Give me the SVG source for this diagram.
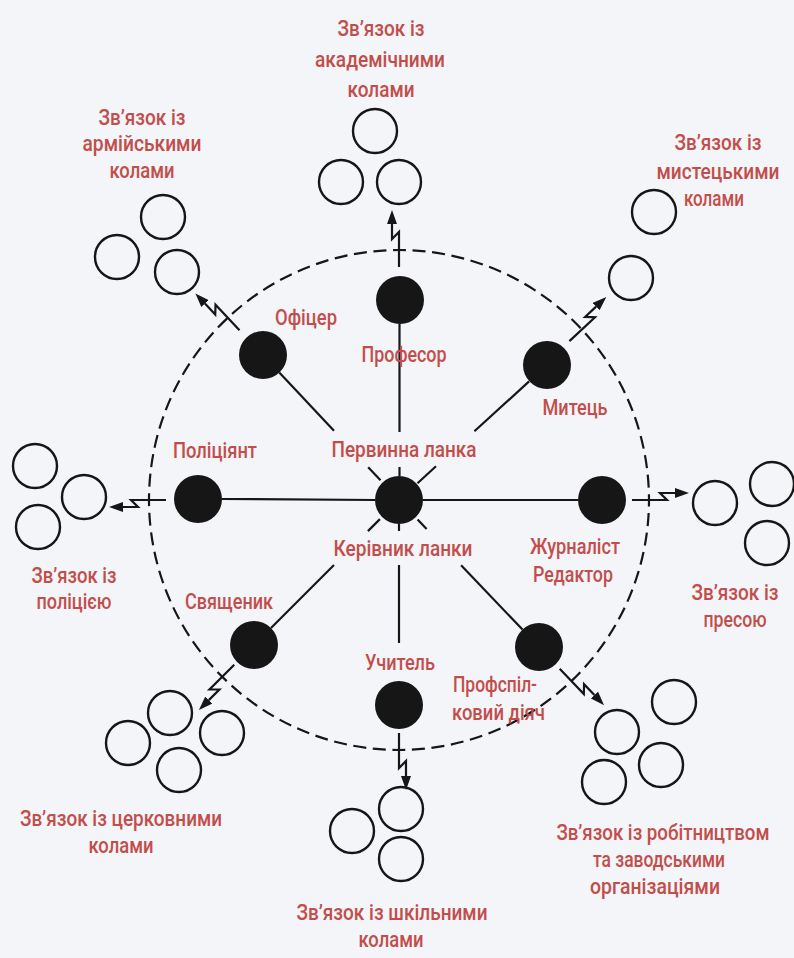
<svg xmlns="http://www.w3.org/2000/svg" width="794" height="958" viewBox="0 0 794 958">
<defs>
<style>
.bg{fill:#f3f5f8}
.lbl{font-family:Roboto,"Liberation Sans","DejaVu Sans",sans-serif;font-size:22px;font-weight:500;fill:#c24e4c;text-anchor:middle}
.st{text-anchor:start}
.dot{fill:#161616}
.ring{fill:none;stroke:#161616;stroke-width:2.4}
.spoke{stroke:#161616;stroke-width:2.2;fill:none}
.bolt{stroke:#161616;stroke-width:2.2;fill:none;stroke-linejoin:miter;marker-end:url(#arr)}
.border{fill:none;stroke:#161616;stroke-width:2.2;stroke-dasharray:13 6.635;stroke-dashoffset:6.5}
</style>
<marker id="arr" viewBox="0 0 14 10" refX="0" refY="5" markerWidth="14" markerHeight="10" markerUnits="userSpaceOnUse" orient="auto">
<path d="M0,0 L14,5 L0,10 z" fill="#161616"/>
</marker>
</defs>
<rect class="bg" x="0" y="0" width="794" height="958"/>

<circle id="boundary" class="border" cx="399" cy="500" r="250"/>

<g id="connectors">
<line class="spoke" x1="334" y1="430.7" x2="279.3" y2="372.4"/>
<line class="spoke" x1="380.5" y1="480.3" x2="368.2" y2="467.2"/>
<line class="spoke" x1="399.5" y1="324" x2="399.5" y2="432"/>
<line class="spoke" x1="399.5" y1="467" x2="399.5" y2="476"/>
<line class="spoke" x1="474.4" y1="431.3" x2="529.1" y2="381.4"/>
<line class="spoke" x1="417.5" y1="483.2" x2="436" y2="466.3"/>
<line class="spoke" x1="375" y1="500" x2="222" y2="499"/>
<line class="spoke" x1="423" y1="500" x2="578" y2="500"/>
<line class="spoke" x1="334" y1="565" x2="271" y2="628"/>
<line class="spoke" x1="379.9" y1="519.1" x2="367.9" y2="531.1"/>
<line class="spoke" x1="399" y1="565" x2="399" y2="643"/>
<line class="spoke" x1="399" y1="524" x2="399" y2="531"/>
<line class="spoke" x1="461.1" y1="565.2" x2="522.5" y2="629.6"/>
<line class="spoke" x1="417.6" y1="519.5" x2="426.6" y2="529"/>
<g transform="translate(399,500)">
<path class="bolt" transform="rotate(-90)" d="M233,0 H268 L261,-7 H276"/>
<path class="bolt" transform="rotate(-133.2)" d="M233,0 H268 L261,-7 H276"/>
<path class="bolt" transform="rotate(-43)" d="M233,0 H268 L261,-7 H276"/>
<path class="bolt" transform="rotate(0)" d="M233,0 H268 L261,-7 H276"/>
<path class="bolt" transform="rotate(46.4)" d="M233,0 H268 L261,-7 H276"/>
<path class="bolt" transform="rotate(90)" d="M233,0 H268 L261,-7 H276"/>
<path class="bolt" transform="rotate(135)" d="M233,0 H268 L261,-7 H276"/>
<path class="bolt" transform="rotate(180)" d="M233,0 H268 L261,-7 H276"/>
</g>
</g>

<g id="hub">
<circle class="dot" cx="399" cy="500" r="24"/>
<text class="lbl" x="404" y="457" textLength="145" lengthAdjust="spacingAndGlyphs">Первинна ланка</text>
<text class="lbl" x="403" y="556" textLength="139" lengthAdjust="spacingAndGlyphs">Керівник ланки</text>
</g>
<g id="profesor">
<circle class="dot" cx="400" cy="300" r="24"/>
<text class="lbl" x="404" y="362" textLength="85" lengthAdjust="spacingAndGlyphs">Професор</text>
</g>
<g id="oficer">
<circle class="dot" cx="263" cy="355" r="24"/>
<text class="lbl" x="306" y="325" textLength="62" lengthAdjust="spacingAndGlyphs">Офіцер</text>
</g>
<g id="mytets">
<circle class="dot" cx="547" cy="365" r="24"/>
<text class="lbl" x="575" y="415" textLength="65" lengthAdjust="spacingAndGlyphs">Митець</text>
</g>
<g id="politsiyant">
<circle class="dot" cx="198" cy="499" r="24"/>
<text class="lbl" x="215" y="458" textLength="84" lengthAdjust="spacingAndGlyphs">Поліціянт</text>
</g>
<g id="zhurnalist">
<circle class="dot" cx="602" cy="500" r="24"/>
<text class="lbl" x="575" y="554" textLength="90" lengthAdjust="spacingAndGlyphs">Журналіст</text>
<text class="lbl" x="573" y="582" textLength="80" lengthAdjust="spacingAndGlyphs">Редактор</text>
</g>
<g id="svyashchenyk">
<circle class="dot" cx="254" cy="645" r="24"/>
<text class="lbl" x="229" y="609" textLength="88" lengthAdjust="spacingAndGlyphs">Священик</text>
</g>
<g id="uchytel">
<circle class="dot" cx="399" cy="705" r="24"/>
<text class="lbl" x="400" y="670" textLength="70" lengthAdjust="spacingAndGlyphs">Учитель</text>
</g>
<g id="profspilka">
<circle class="dot" cx="539" cy="647" r="24"/>
<text class="lbl st" x="453" y="692" textLength="84" lengthAdjust="spacingAndGlyphs">Профспіл-</text>
<text class="lbl st" x="452" y="720" textLength="93" lengthAdjust="spacingAndGlyphs">ковий діяч</text>
</g>

<g id="army">
<circle class="ring" cx="163" cy="217" r="22"/>
<circle class="ring" cx="117" cy="257" r="22"/>
<circle class="ring" cx="177" cy="272" r="22"/>
<text class="lbl" x="142" y="125" textLength="87" lengthAdjust="spacingAndGlyphs">Зв’язок із</text>
<text class="lbl" x="142" y="151" textLength="119" lengthAdjust="spacingAndGlyphs">армійськими</text>
<text class="lbl" x="142" y="178" textLength="65" lengthAdjust="spacingAndGlyphs">колами</text>
</g>
<g id="academic">
<circle class="ring" cx="375" cy="131" r="22"/>
<circle class="ring" cx="341" cy="182" r="22"/>
<circle class="ring" cx="399" cy="182" r="22"/>
<text class="lbl" x="381" y="36" textLength="87" lengthAdjust="spacingAndGlyphs">Зв’язок із</text>
<text class="lbl" x="380" y="67" textLength="130" lengthAdjust="spacingAndGlyphs">академічними</text>
<text class="lbl" x="381" y="97" textLength="67" lengthAdjust="spacingAndGlyphs">колами</text>
</g>
<g id="artistic">
<circle class="ring" cx="654" cy="212" r="22"/>
<circle class="ring" cx="631" cy="278" r="22"/>
<text class="lbl" x="718" y="150" textLength="87" lengthAdjust="spacingAndGlyphs">Зв’язок із</text>
<text class="lbl" x="718" y="179" textLength="123" lengthAdjust="spacingAndGlyphs">мистецькими</text>
<text class="lbl" x="714" y="206" textLength="60" lengthAdjust="spacingAndGlyphs">колами</text>
</g>
<g id="police">
<circle class="ring" cx="35" cy="466" r="22"/>
<circle class="ring" cx="84" cy="497" r="22"/>
<circle class="ring" cx="38" cy="527" r="22"/>
<text class="lbl" x="74" y="583" textLength="85" lengthAdjust="spacingAndGlyphs">Зв’язок із</text>
<text class="lbl" x="74" y="609" textLength="75" lengthAdjust="spacingAndGlyphs">поліцією</text>
</g>
<g id="press">
<circle class="ring" cx="772" cy="484" r="22"/>
<circle class="ring" cx="715" cy="503" r="22"/>
<circle class="ring" cx="767" cy="543" r="22"/>
<text class="lbl" x="735" y="600" textLength="87" lengthAdjust="spacingAndGlyphs">Зв’язок із</text>
<text class="lbl" x="735" y="627" textLength="63" lengthAdjust="spacingAndGlyphs">пресою</text>
</g>
<g id="church">
<circle class="ring" cx="170" cy="713" r="22"/>
<circle class="ring" cx="128" cy="743" r="22"/>
<circle class="ring" cx="222" cy="733" r="22"/>
<circle class="ring" cx="179" cy="770" r="22"/>
<text class="lbl" x="121" y="826" textLength="202" lengthAdjust="spacingAndGlyphs">Зв’язок із церковними</text>
<text class="lbl" x="121" y="853" textLength="65" lengthAdjust="spacingAndGlyphs">колами</text>
</g>
<g id="school">
<circle class="ring" cx="401" cy="809" r="22"/>
<circle class="ring" cx="352" cy="831" r="22"/>
<circle class="ring" cx="401" cy="859" r="22"/>
<text class="lbl" x="392" y="920" textLength="191" lengthAdjust="spacingAndGlyphs">Зв’язок із шкільними</text>
<text class="lbl" x="391" y="947" textLength="65" lengthAdjust="spacingAndGlyphs">колами</text>
</g>
<g id="workers">
<circle class="ring" cx="674" cy="702" r="22"/>
<circle class="ring" cx="617" cy="732" r="22"/>
<circle class="ring" cx="661" cy="765" r="22"/>
<circle class="ring" cx="604" cy="782" r="22"/>
<text class="lbl" x="663" y="840" textLength="213" lengthAdjust="spacingAndGlyphs">Зв’язок із робітництвом</text>
<text class="lbl" x="659" y="867" textLength="132" lengthAdjust="spacingAndGlyphs">та заводськими</text>
<text class="lbl" x="655" y="894" textLength="130" lengthAdjust="spacingAndGlyphs">організаціями</text>
</g>
</svg>
